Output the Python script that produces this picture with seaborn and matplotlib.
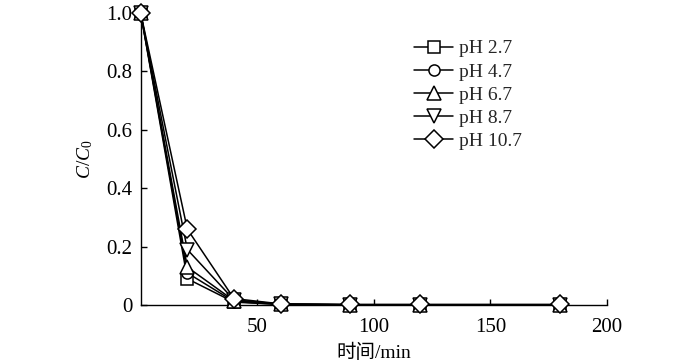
import numpy as np
import pandas as pd
import matplotlib
matplotlib.use("Agg")
import matplotlib.pyplot as plt
import seaborn as sns

sns.set_theme(style="ticks")
plt.rcParams["font.family"] = ["Liberation Serif", "Noto Sans CJK SC", "DejaVu Sans"]
plt.rcParams["mathtext.fontset"] = "custom"
plt.rcParams["mathtext.it"] = "Liberation Serif:italic"
plt.rcParams["mathtext.rm"] = "Liberation Serif"

# data
time_min = [0, 20, 40, 60, 90, 120, 180]
labels = ["pH 2.7", "pH 4.7", "pH 6.7", "pH 8.7", "pH 10.7"]
ph27 = [1.0, 0.09, 0.010, 0.002, 0.001, 0.001, 0.001]
ph47 = [1.0, 0.11, 0.012, 0.002, 0.001, 0.001, 0.001]
ph67 = [1.0, 0.13, 0.015, 0.003, 0.001, 0.001, 0.001]
ph87 = [1.0, 0.19, 0.018, 0.003, 0.001, 0.001, 0.001]
ph107 = [1.0, 0.26, 0.022, 0.004, 0.002, 0.002, 0.002]
series = [ph27, ph47, ph67, ph87, ph107]
markers = ["s", "o", "^", "v", "D"]
msizes = [8, 8, 9.5, 9.5, 9.5]

fig = plt.figure(figsize=(7, 3.64), dpi=100)
ax = fig.add_axes([0.201, 0.162, 0.666, 0.802])

for lab, vals, mk, ms in zip(labels, series, markers, msizes):
    df = pd.DataFrame({"t": time_min, "c": vals})
    sns.lineplot(data=df, x="t", y="c", ax=ax, color="black", lw=1.1,
                 marker=mk, markersize=ms, markerfacecolor="white",
                 markeredgecolor="black", markeredgewidth=1.1,
                 label=lab, clip_on=False, zorder=3)

ax.set_xlim(0, 200)
ax.set_ylim(0, 1.0)
ax.set_xticks([50, 100, 150, 200])
ax.set_yticks([0, 0.2, 0.4, 0.6, 0.8, 1.0])
ax.set_yticklabels(["0", "0.2", "0.4", "0.6", "0.8", "1.0"])
ax.tick_params(direction="in", length=4, width=1, labelsize=15, colors="black")
ax.tick_params(axis="x", pad=9)
ax.tick_params(axis="y", pad=6)
for s in ["top", "right"]:
    ax.spines[s].set_visible(False)
for s in ["left", "bottom"]:
    ax.spines[s].set_color("black")
    ax.spines[s].set_linewidth(1.0)

ax.set_xlabel("时间/min", fontsize=14, labelpad=5, color="black")
ax.set_ylabel(r"$C/C_0$", fontsize=14, labelpad=8, color="black")

ax.legend(loc="upper left", bbox_to_anchor=(0.57, 0.935), frameon=False,
          fontsize=14, handlelength=2.0, handletextpad=0.3, labelspacing=0.28,
          borderaxespad=0)

fig.savefig("out.png", dpi=100, facecolor="white")
